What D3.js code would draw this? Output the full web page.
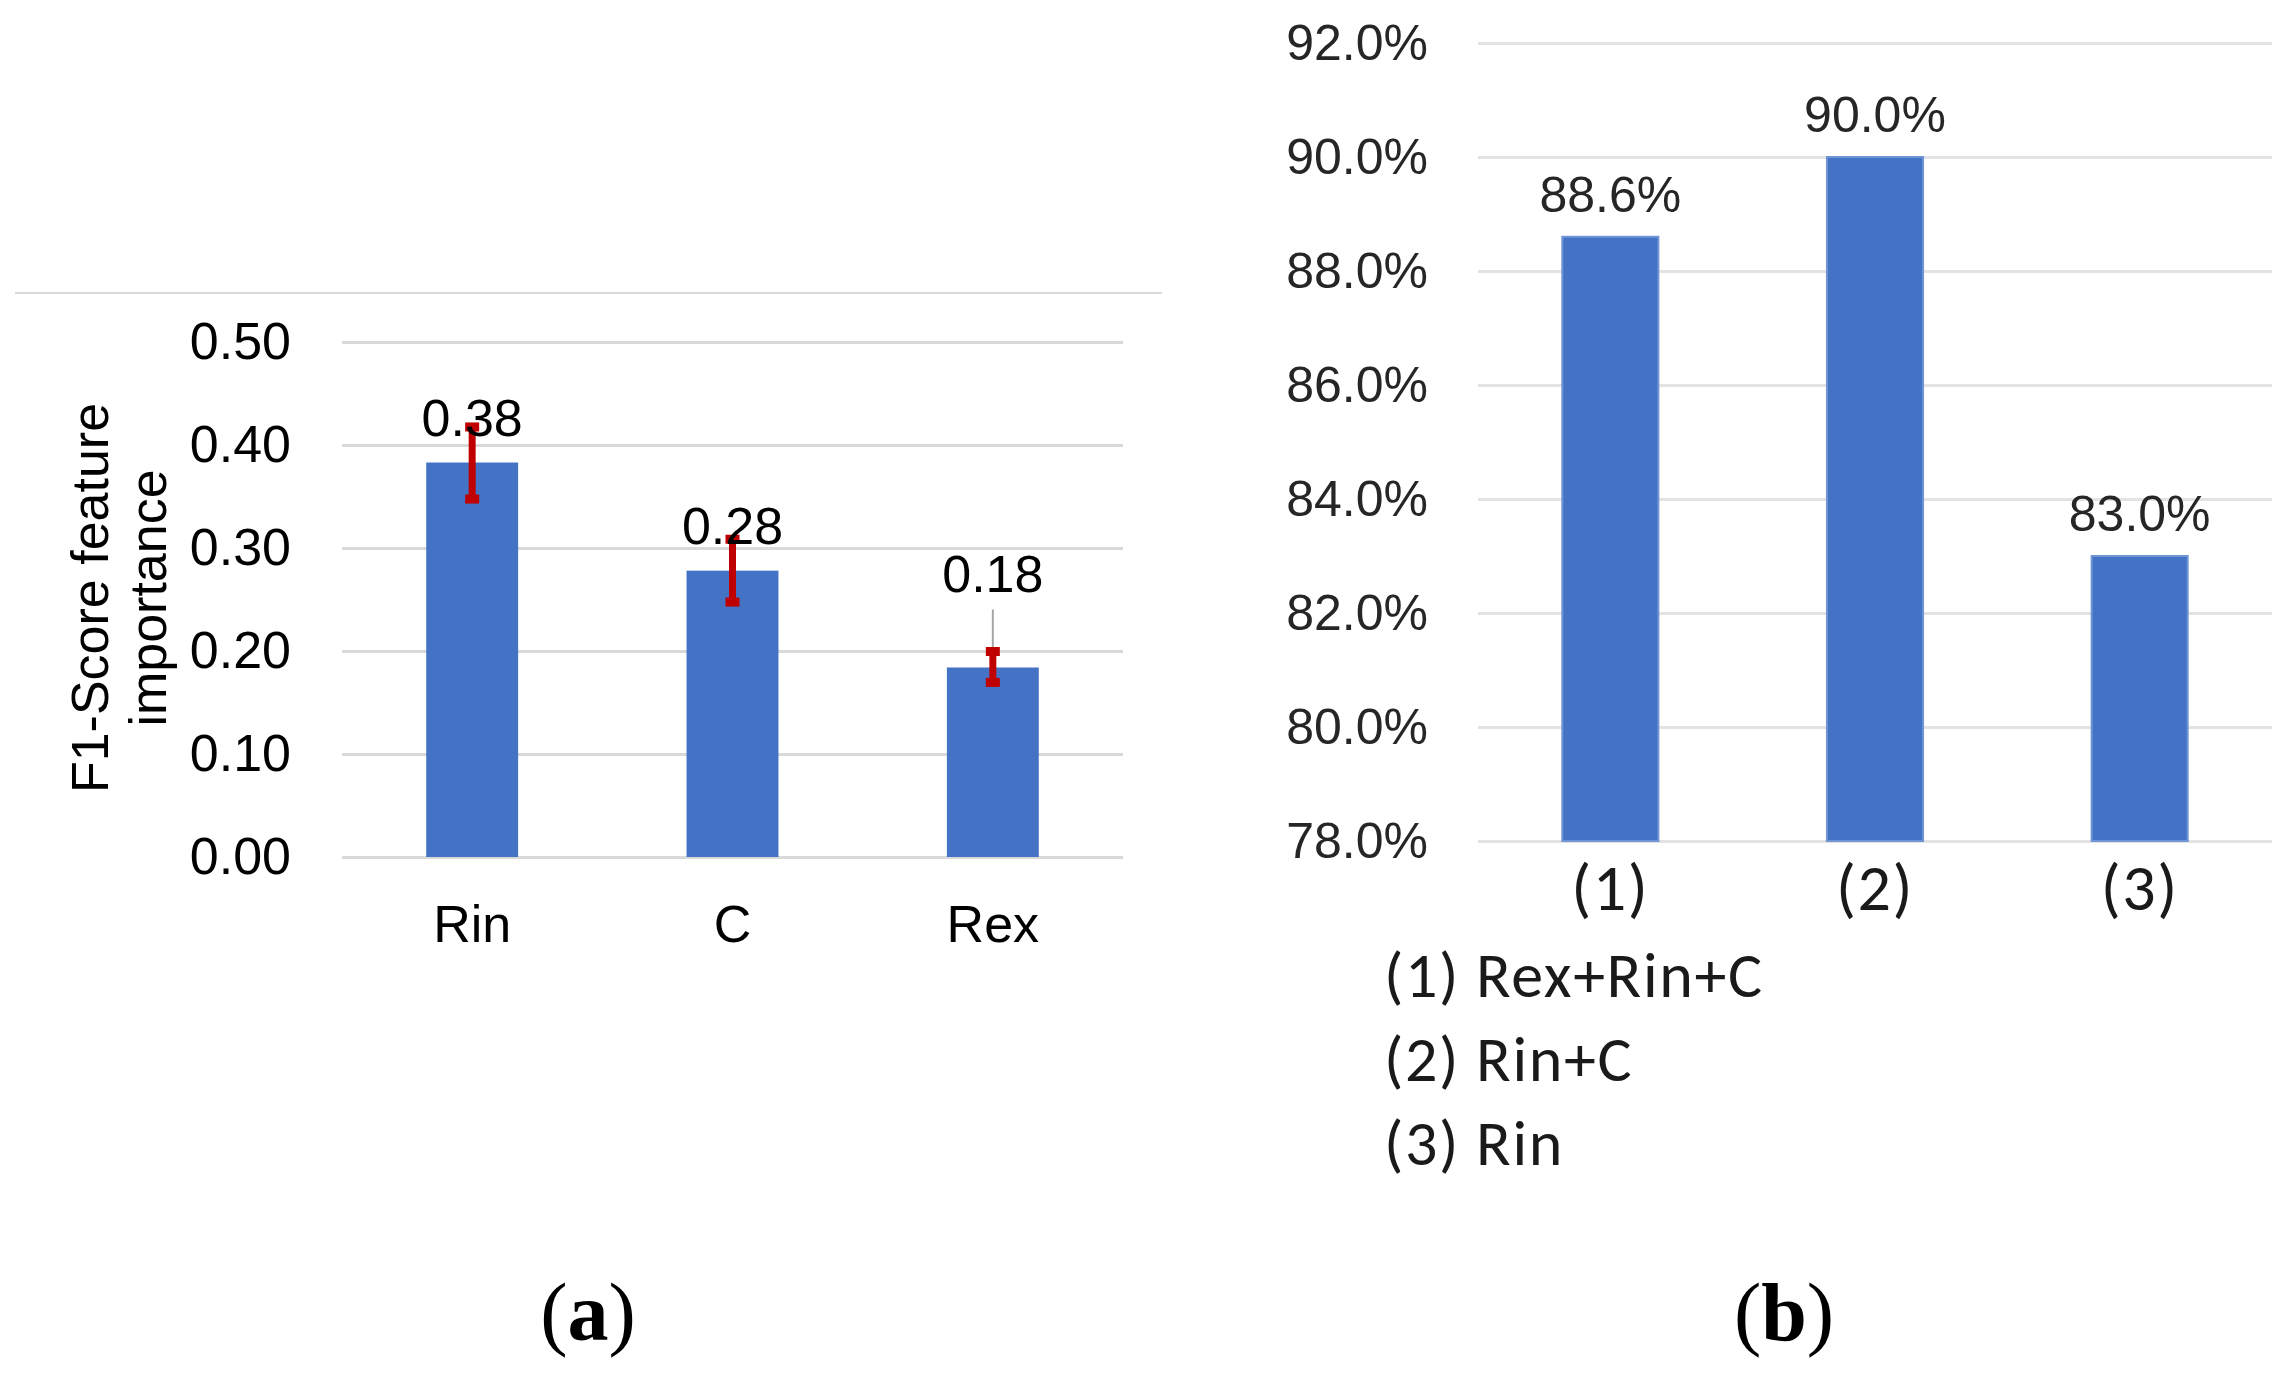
<!DOCTYPE html>
<html>
<head>
<meta charset="utf-8">
<script src="https://cdn.jsdelivr.net/npm/d3@7"></script>
<style>
  body { margin: 0; background: #fff; }
  svg { display: block; }
</style>
</head>
<body>
<svg id="fig" width="2287" height="1376"></svg>
<script>
// (a) feature importance
const featNames = ['Rin', 'C', 'Rex'];
const featScore = [0.383, 0.278, 0.184];
const featErrLow = [0.348, 0.248, 0.170];
const featErrHigh = [0.418, 0.309, 0.200];
const featLabels = ['0.38', '0.28', '0.18'];
const featTicks = [0, 0.1, 0.2, 0.3, 0.4, 0.5];

// (b) accuracy for feature combinations
const comboNames = ['(1)', '(2)', '(3)'];
const comboAcc = [88.6, 90.0, 83.0];
const comboTicks = [78, 80, 82, 84, 86, 88, 90, 92];
const comboLegend = ['(1) Rex+Rin+C', '(2) Rin+C', '(3) Rin'];

const svg = d3.select('#fig');
const sans = "'Liberation Sans', Arial, sans-serif";
const barColor = '#4472c4';
const gridColor = '#d9d9d9';

// ---------- panel (a) ----------
let a = svg.append('g');
let aLeft = 342, aRight = 1123, aTop = 342, aBottom = 857;

a.append('line')
    .attr('x1', 15).attr('x2', 1162)
    .attr('y1', 293).attr('y2', 293)
    .attr('stroke', gridColor).attr('stroke-width', 2);

let xa = d3.scaleBand().domain(featNames).range([aLeft, aRight]);
let ya = d3.scaleLinear().domain([0, 0.5]).range([aBottom, aTop]);

let axA = a.append('g')
    .attr('transform', 'translate(' + aLeft + ',0)')
    .call(d3.axisLeft(ya).tickValues(featTicks).tickFormat(d3.format('.2f'))
        .tickSize(-(aRight - aLeft)).tickPadding(51));
axA.select('.domain').remove();
axA.selectAll('line').attr('stroke', gridColor).attr('stroke-width', 3);
axA.selectAll('text').attr('font-family', sans).attr('font-size', 52).attr('fill', '#000');

let bwA = xa.bandwidth() * 0.353;
a.selectAll('rect.bar').data(featScore).enter()
    .append('rect')
    .attr('class', 'bar')
    .attr('x', (d, i) => xa(featNames[i]) + xa.bandwidth() / 2 - bwA / 2)
    .attr('y', d => ya(d))
    .attr('width', bwA)
    .attr('height', d => ya(0) - ya(d))
    .attr('fill', barColor);

// data labels, the last one was pulled up in the original with a leader line
let labelLift = [27, 27, 75];
featScore.forEach((d, i) => {
    let cx = xa(featNames[i]) + xa.bandwidth() / 2;
    if (i == 2) {
        a.append('line')
            .attr('x1', cx).attr('x2', cx)
            .attr('y1', ya(d) - labelLift[i] + 17).attr('y2', ya(d))
            .attr('stroke', '#a6a6a6').attr('stroke-width', 2);
    }
});

// error bars
featScore.forEach((d, i) => {
    let cx = xa(featNames[i]) + xa.bandwidth() / 2;
    let g = a.append('g');
    g.append('line')
        .attr('x1', cx).attr('x2', cx)
        .attr('y1', ya(featErrHigh[i])).attr('y2', ya(featErrLow[i]))
        .attr('stroke', '#c00000').attr('stroke-width', 7);
    [featErrHigh[i], featErrLow[i]].forEach(v => {
        g.append('rect')
            .attr('x', cx - 7).attr('y', ya(v) - 4)
            .attr('width', 14).attr('height', 9)
            .attr('fill', '#c00000');
    });
});

a.selectAll('text.val').data(featScore).enter()
    .append('text')
    .attr('class', 'val')
    .attr('x', (d, i) => xa(featNames[i]) + xa.bandwidth() / 2)
    .attr('y', (d, i) => ya(d) - labelLift[i])
    .attr('text-anchor', 'middle')
    .attr('font-family', sans).attr('font-size', 52)
    .text((d, i) => featLabels[i]);

a.selectAll('text.cat').data(featNames).enter()
    .append('text')
    .attr('class', 'cat')
    .attr('x', d => xa(d) + xa.bandwidth() / 2)
    .attr('y', 942)
    .attr('text-anchor', 'middle')
    .attr('font-family', sans).attr('font-size', 52)
    .text(d => d);

let yTitle = a.append('text')
    .attr('transform', 'translate(0,598) rotate(-90)')
    .attr('text-anchor', 'middle')
    .attr('font-family', sans).attr('font-size', 52);
yTitle.append('tspan').attr('x', 0).attr('y', 108).text('F1-Score feature');
yTitle.append('tspan').attr('x', 0).attr('y', 166).text('importance');

// ---------- panel (b) ----------
let b = svg.append('g');
let bLeft = 1478, bRight = 2272, bTop = 43, bBottom = 841;
let xb = d3.scaleBand().domain(comboNames).range([bLeft, bRight]);
let yb = d3.scaleLinear().domain([78, 92]).range([bBottom, bTop]);

let axB = b.append('g')
    .attr('transform', 'translate(' + bLeft + ',0)')
    .call(d3.axisLeft(yb).tickValues(comboTicks).tickFormat(d => d.toFixed(1) + '%')
        .tickSize(-(bRight - bLeft)).tickPadding(50));
axB.select('.domain').remove();
axB.selectAll('line').attr('stroke', '#e3e3e3').attr('stroke-width', 3);
axB.selectAll('text').attr('font-family', sans).attr('font-size', 50).attr('fill', '#262626');

let bwB = xb.bandwidth() * 0.363;
b.selectAll('rect.bar').data(comboAcc).enter()
    .append('rect')
    .attr('class', 'bar')
    .attr('x', (d, i) => xb(comboNames[i]) + xb.bandwidth() / 2 - bwB / 2)
    .attr('y', d => yb(d))
    .attr('width', bwB)
    .attr('height', d => yb(78) - yb(d))
    .attr('fill', barColor)
    .attr('stroke', '#6f95d6').attr('stroke-width', 2);

b.selectAll('text.val').data(comboAcc).enter()
    .append('text')
    .attr('class', 'val')
    .attr('x', (d, i) => xb(comboNames[i]) + xb.bandwidth() / 2)
    .attr('y', d => yb(d) - 25)
    .attr('text-anchor', 'middle')
    .attr('font-family', sans).attr('font-size', 50).attr('fill', '#262626')
    .text(d => d.toFixed(1) + '%');

const calib = "Carlito, Calibri, Lato, 'Open Sans', sans-serif";
b.selectAll('text.cat').data(comboNames).enter()
    .append('text')
    .attr('class', 'cat')
    .attr('x', d => xb(d) + xb.bandwidth() / 2)
    .attr('y', 910)
    .attr('text-anchor', 'middle')
    .attr('font-family', calib).attr('font-size', 66).attr('letter-spacing', 1.5)
    .attr('fill', '#1a1a1a')
    .text(d => d);

b.selectAll('text.leg').data(comboLegend).enter()
    .append('text')
    .attr('class', 'leg')
    .attr('x', 1384)
    .attr('y', (d, i) => 997 + i * 84)
    .attr('font-family', calib).attr('font-size', 64).attr('letter-spacing', 1.6)
    .attr('fill', '#1a1a1a')
    .text(d => d);

// ---------- captions ----------
const serif = "'Liberation Serif', 'Times New Roman', serif";
[['a', 588], ['b', 1784]].forEach(c => {
    let t = svg.append('text')
        .attr('x', c[1]).attr('y', 1340)
        .attr('text-anchor', 'middle')
        .attr('font-family', serif).attr('font-size', 82);
    t.append('tspan').text('(');
    t.append('tspan').attr('font-weight', 'bold').text(c[0]);
    t.append('tspan').text(')');
});
</script>
</body>
</html>
